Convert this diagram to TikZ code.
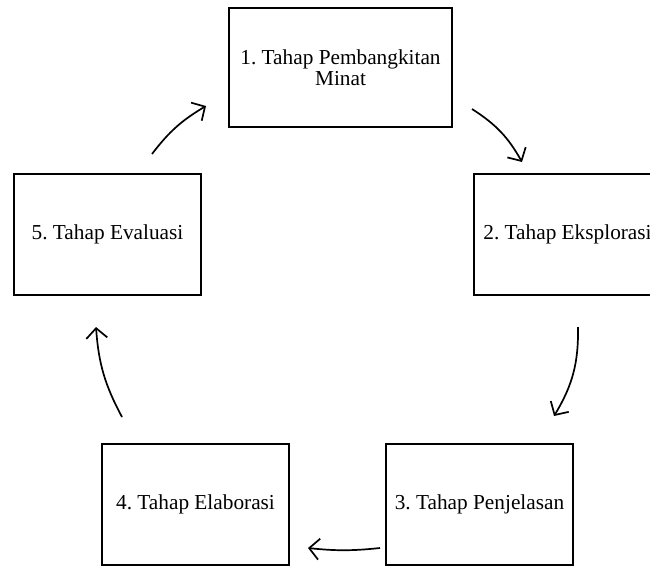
\documentclass[tikz,border=0pt]{standalone}
\usepackage{fontspec}
\setmainfont{Liberation Serif}
\usetikzlibrary{arrows.meta}
\begin{document}
\frenchspacing
\begin{tikzpicture}[x=1pt,y=-1pt,
  stage/.style={draw,line width=1.8pt,minimum width=187pt,minimum height=121pt,inner sep=0pt,align=center,font=\fontsize{21.3}{21}\selectfont},
  flow/.style={line width=1.7pt,-{Straight Barb[length=10pt,width=21pt,line width=1.7pt]},bend left=14}]
\useasboundingbox (0,0) rectangle (650,566);
\clip (0,0) rectangle (650,566);
\node[stage,minimum width=223pt,minimum height=119pt] (s1) at (340.5,67.5) {1. Tahap Pembangkitan\\Minat};
\node[stage] (s2) at (567.5,234.5) {2. Tahap Eksplorasi};
\node[stage] (s3) at (479.5,504.5) {3. Tahap Penjelasan};
\node[stage] (s4) at (195.5,504.5) {4. Tahap Elaborasi};
\node[stage] (s5) at (107.5,234.5) {5. Tahap Evaluasi};
\coordinate (a1) at (152,154); \coordinate (b1) at (206,106);
\coordinate (a2) at (472,109); \coordinate (b2) at (522,162);
\coordinate (a3) at (578,327); \coordinate (b3) at (554,416);
\coordinate (a4) at (380,548); \coordinate (b4) at (308,548);
\coordinate (a5) at (122,417); \coordinate (b5) at (96,327);
\draw[flow,bend left=11] (a1) to (b1);
\draw[flow] (a2) to (b2);
\draw[flow,bend left=16] (a3) to (b3);
\draw[flow,bend left=6] (a4) to (b4);
\draw[flow,bend left=12] (a5) to (b5);
\end{tikzpicture}
\end{document}
